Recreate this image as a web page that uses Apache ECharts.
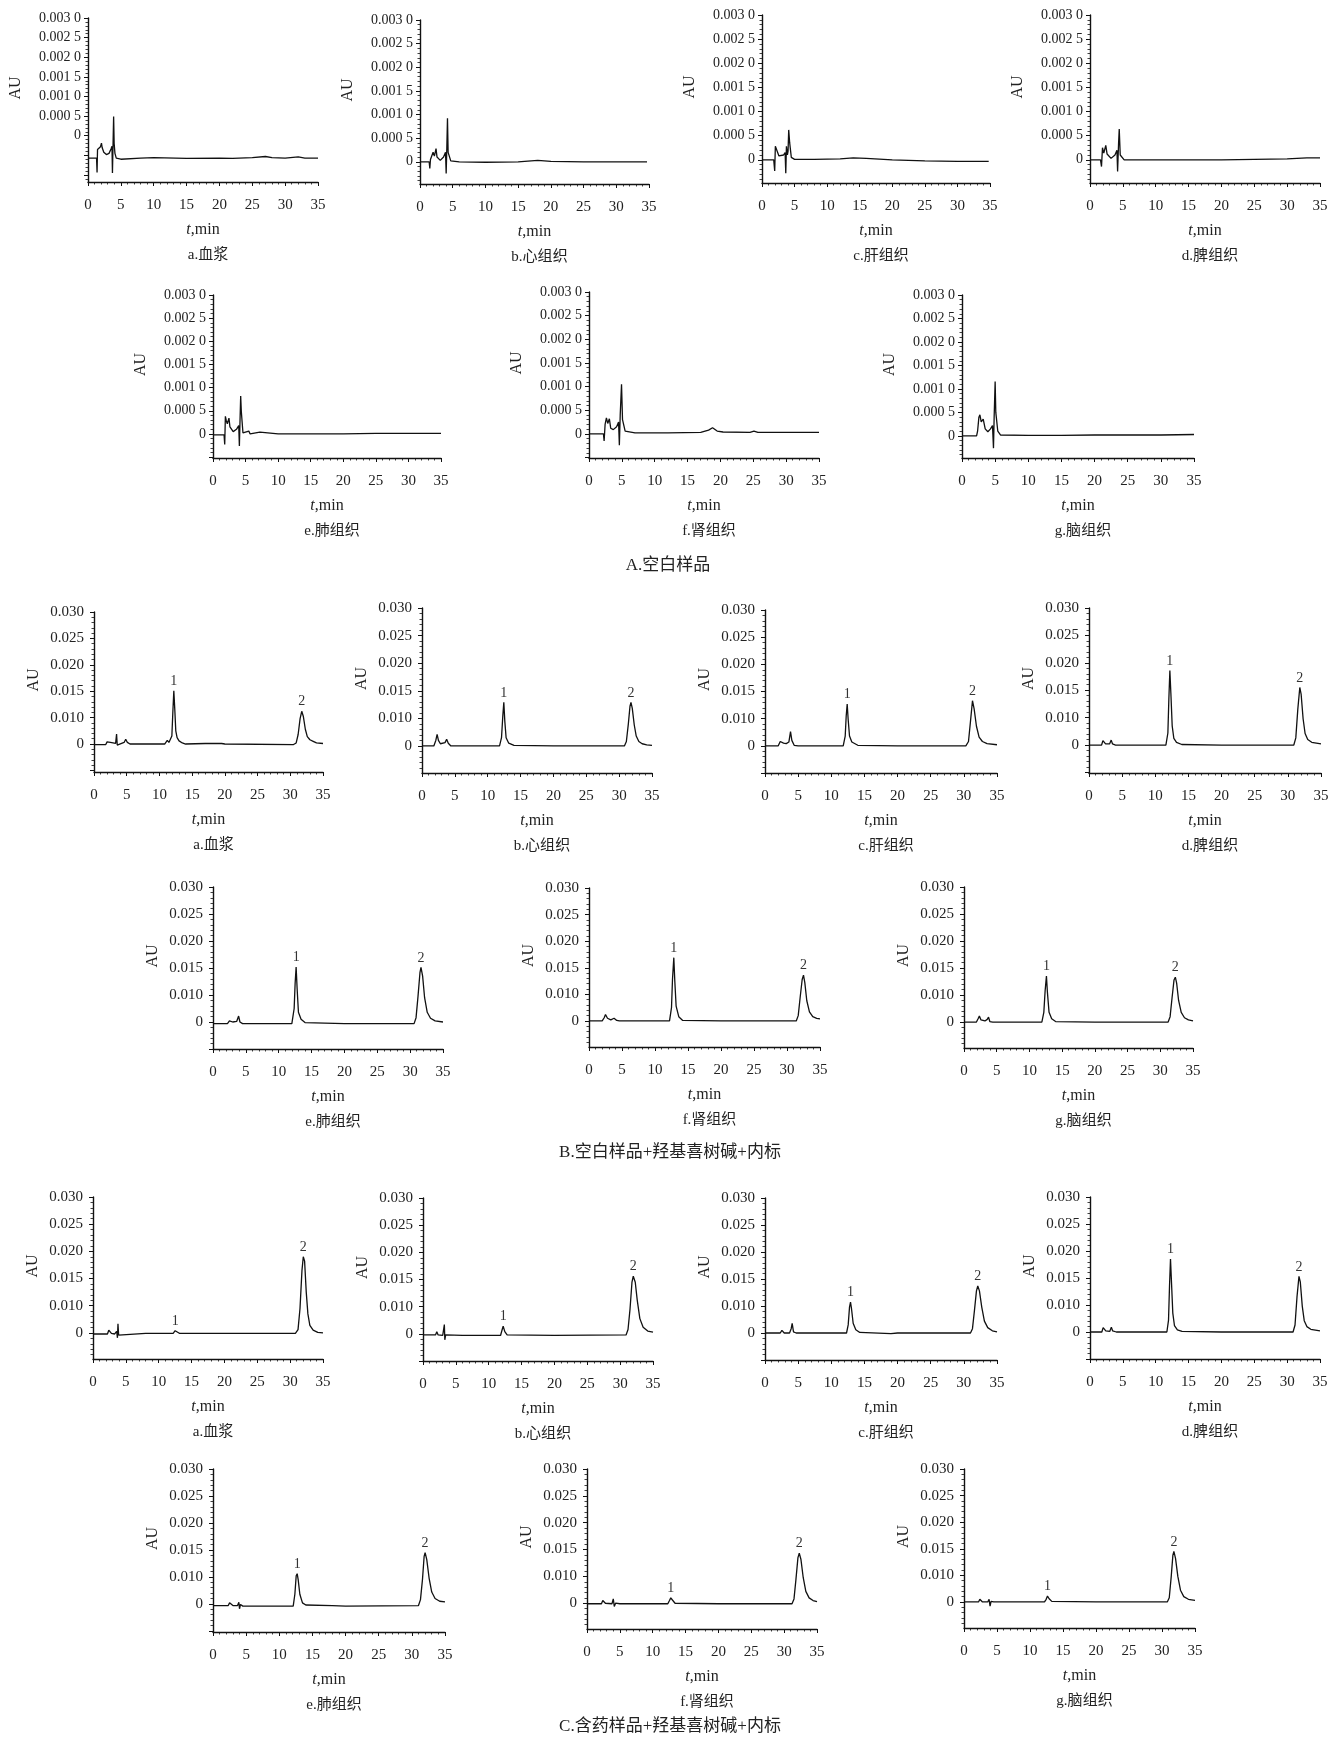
<!DOCTYPE html>
<html><head><meta charset="utf-8">
<script src="https://cdn.jsdelivr.net/npm/echarts@6/dist/echarts.min.js"></script>
<style>html,body{margin:0;padding:0;background:#fff}#chart{width:1334px;height:1738px}</style>
</head><body><div id="chart"></div>
<script>
// ---------- text ----------
const groupTitles = ['A.空白样品', 'B.空白样品+羟基喜树碱+内标', 'C.含药样品+羟基喜树碱+内标'];
const tissueCaptions = ['a.血浆', 'b.心组织', 'c.肝组织', 'd.脾组织', 'e.肺组织', 'f.肾组织', 'g.脑组织'];
const peakNames = ['1', '2'];
const peakWindows = [[10, 15], [29, 35]];

// ---------- tick labels ----------
const xTickValues = [0, 5, 10, 15, 20, 25, 30, 35];
const blankTickValues = [-0.0010, -0.0005, 0, 0.0005, 0.0010, 0.0015, 0.0020, 0.0025, 0.0030];
const blankTickLabels = ['', '', '0', '0.000 5', '0.001 0', '0.001 5', '0.002 0', '0.002 5', '0.003 0'];
const drugTickValues = [0, 0.005, 0.010, 0.015, 0.020, 0.025, 0.030];
const drugTickLabels = ['', '0', '0.010', '0.015', '0.020', '0.025', '0.030'];

// ---------- A: blank samples  [t(min), AU] ----------
const blankPlasma = [[0,-0.00057],[1.3,-0.00057],[1.38,-0.00094],[1.45,-0.00035],[1.6,-0.00031],[1.75,-0.00036],[1.9,-0.00028],[2.05,-0.00019],[2.15,-0.0003],[2.4,-0.00042],[2.8,-0.00048],[3.2,-0.00045],[3.5,-0.00034],[3.65,-0.00027],[3.72,-0.00095],[3.8,-0.0003],[3.9,0.00049],[3.98,-0.0002],[4.1,-0.00045],[4.3,-0.00057],[5,-0.0006],[8,-0.00057],[10,-0.00056],[15,-0.00058],[20,-0.00057],[22,-0.00058],[25,-0.00056],[27,-0.00053],[28,-0.00056],[30,-0.00057],[32,-0.00054],[33,-0.00057],[35,-0.00057]];
const blankHeart = [[0,0],[1.4,0],[1.5,-0.00014],[1.6,0.00005],[2.0,0.0002],[2.2,0.00012],[2.45,0.00028],[2.6,0.0001],[3.1,0.00003],[3.6,0.0001],[3.9,0.0002],[4.0,-0.00025],[4.1,0.0003],[4.2,0.00092],[4.3,0.0002],[4.7,0.00002],[6,0],[10,-0.00001],[15,0],[18,0.00003],[20,0.00001],[25,0],[30,0],[34.7,0]];
const blankLiver = [[0,0],[1.8,0],[1.95,-0.00023],[2.05,0.00028],[2.3,0.00024],[2.6,0.00008],[2.9,0.00005],[3.3,0.0001],[3.55,0.00015],[3.65,-0.00028],[3.75,0.00028],[3.9,0.0001],[4.0,0.00018],[4.1,0.00062],[4.25,0.00035],[4.5,0.00005],[5,0.00001],[8,0.00001],[12,0.00002],[14,0.00004],[16,0.00003],[20,0],[25,-0.00002],[30,-0.00003],[34.8,-0.00003]];
const blankSpleen = [[0,0],[1.6,0],[1.75,-0.00014],[1.9,0.00025],[2.1,0.00014],[2.4,0.0003],[2.6,0.00012],[3.2,0.00003],[3.8,0.0001],[4.1,0.0002],[4.2,-0.00024],[4.35,0.00035],[4.45,0.00064],[4.6,0.0001],[5.2,0],[10,0],[15,0],[20,0],[25,0.00001],[30,0.00002],[33,0.00004],[35,0.00004]];
const blankLung = [[0,-0.00002],[1.7,-0.00002],[1.8,-0.00023],[1.9,0.00038],[2.05,0.00028],[2.2,0.00022],[2.45,0.00034],[2.6,0.00015],[3.1,0.00005],[3.6,0.0001],[3.95,0.00018],[4.05,-0.00026],[4.15,0.0003],[4.25,0.00082],[4.35,0.00048],[4.6,0.00002],[5.5,0.00006],[5.7,0],[7.2,0.00004],[7.5,0],[10,0],[15,0],[20,0],[25,0.00001],[30,0.00001],[35,0.00001]];
const blankKidney = [[0,0],[2.2,0],[2.3,-0.00015],[2.45,0.0002],[2.65,0.00034],[2.85,0.00022],[3.1,0.00032],[3.3,0.00012],[3.7,0.00009],[4.2,0.00015],[4.5,0.00025],[4.62,-0.00024],[4.75,0.0004],[4.95,0.00105],[5.1,0.0003],[5.5,0.00006],[7,0.00002],[12,0.00002],[17,0.00003],[18.2,0.00008],[18.8,0.00013],[19.5,0.00006],[20.4,0.00004],[24.5,0.00003],[25.1,0.00006],[25.7,0.00003],[30,0.00003],[35,0.00003]];
const blankBrain = [[0,0],[2.2,0],[2.35,0.0001],[2.55,0.0004],[2.7,0.00045],[2.9,0.0003],[3.2,0.00036],[3.5,0.00015],[3.9,0.00009],[4.3,0.00015],[4.6,0.00022],[4.75,-0.00026],[4.85,0.0004],[5.0,0.00116],[5.1,0.0005],[5.4,0.0001],[5.8,0.00002],[10,0.00001],[15,0.00001],[20,0.00002],[25,0.00002],[30,0.00002],[35,0.00003]];

// ---------- B: blank + hydroxycamptothecin + internal standard ----------
const spikedPlasma = [[0,0.0049],[1.8,0.0049],[2.0,0.0054],[2.5,0.0053],[2.7,0.0051],[3.3,0.0051],[3.45,0.0069],[3.55,0.0048],[3.7,0.0051],[4.6,0.0053],[4.85,0.0059],[5.1,0.0053],[5.5,0.005],[10.8,0.005],[11.2,0.0057],[11.45,0.0053],[11.6,0.0052],[11.9,0.0065],[12.05,0.011],[12.2,0.0151],[12.35,0.0115],[12.5,0.0075],[12.7,0.0062],[13.0,0.0056],[13.5,0.0052],[14,0.005],[17,0.0051],[19.5,0.0051],[20,0.005],[30.5,0.0049],[30.9,0.0052],[31.2,0.0068],[31.5,0.0098],[31.75,0.0112],[32.0,0.0102],[32.3,0.0078],[32.6,0.0064],[33.0,0.0058],[33.5,0.0055],[34,0.0052],[35,0.0051]];
const spikedHeart = [[0,0.005],[1.8,0.005],[2.1,0.006],[2.3,0.0071],[2.5,0.006],[2.8,0.0054],[3.1,0.0053],[3.5,0.0056],[3.75,0.0062],[4.0,0.0055],[4.4,0.005],[11.8,0.005],[12.1,0.0065],[12.3,0.0105],[12.45,0.0129],[12.6,0.0095],[12.8,0.0065],[13.2,0.0055],[14,0.0051],[20,0.005],[30.8,0.005],[31.1,0.0058],[31.4,0.009],[31.65,0.0122],[31.8,0.0129],[32.0,0.0118],[32.3,0.0088],[32.6,0.0068],[33.0,0.0058],[33.5,0.0054],[34.2,0.0052],[35,0.0051]];
const spikedLiver = [[0,0.005],[2.0,0.005],[2.3,0.0058],[2.5,0.006],[2.8,0.0055],[3.2,0.0054],[3.6,0.0057],[3.85,0.0076],[4.05,0.006],[4.4,0.0051],[5,0.005],[11.8,0.005],[12.1,0.0068],[12.25,0.0105],[12.4,0.0127],[12.55,0.0098],[12.75,0.0068],[13.1,0.0057],[14,0.0051],[20,0.005],[30.3,0.005],[30.7,0.0058],[31.0,0.0095],[31.3,0.0133],[31.55,0.0118],[31.9,0.0086],[32.3,0.0066],[32.8,0.0058],[33.5,0.0054],[35,0.0052]];
const spikedSpleen = [[0,0.005],[1.9,0.005],[2.1,0.0058],[2.25,0.0059],[2.5,0.0052],[3.1,0.0052],[3.35,0.0059],[3.55,0.0052],[4,0.005],[11.6,0.005],[11.9,0.0072],[12.05,0.0135],[12.2,0.0186],[12.35,0.0145],[12.55,0.0085],[12.8,0.0062],[13.2,0.0055],[14,0.0051],[20,0.005],[30.9,0.005],[31.2,0.0063],[31.5,0.0115],[31.8,0.0155],[32.0,0.0143],[32.3,0.0098],[32.6,0.0071],[33.0,0.006],[33.6,0.0055],[35,0.0052]];
const spikedLung = [[0,0.0047],[2.2,0.0047],[2.5,0.0052],[2.7,0.0055],[3.0,0.005],[3.6,0.0051],[3.9,0.0061],[4.1,0.005],[4.5,0.0047],[12.0,0.0047],[12.35,0.0075],[12.5,0.0122],[12.65,0.0152],[12.8,0.0112],[13.0,0.0068],[13.4,0.0055],[14,0.0049],[20,0.0047],[30.6,0.0047],[30.9,0.0058],[31.2,0.0098],[31.5,0.0142],[31.65,0.0151],[31.9,0.0135],[32.2,0.0095],[32.6,0.0068],[33.1,0.0057],[33.8,0.0052],[35,0.005]];
const spikedKidney = [[0,0.005],[2.0,0.005],[2.3,0.0056],[2.5,0.0062],[2.8,0.0055],[3.3,0.0052],[3.8,0.0055],[4.0,0.0058],[4.2,0.0051],[4.6,0.005],[12.2,0.005],[12.5,0.0075],[12.65,0.0128],[12.85,0.0169],[13.0,0.0125],[13.2,0.0078],[13.6,0.0058],[14.2,0.0051],[20,0.005],[31.4,0.005],[31.7,0.006],[32.0,0.0095],[32.3,0.0128],[32.5,0.0136],[32.7,0.0122],[33.0,0.0088],[33.4,0.0067],[33.9,0.0058],[34.5,0.0055],[35,0.0054]];
const spikedBrain = [[0,0.005],[1.9,0.005],[2.15,0.0056],[2.35,0.0061],[2.6,0.0054],[3.2,0.0052],[3.55,0.0055],[3.75,0.0059],[3.95,0.0051],[4.4,0.005],[11.9,0.005],[12.2,0.0068],[12.4,0.0108],[12.6,0.0135],[12.75,0.0105],[13.0,0.0068],[13.4,0.0056],[14,0.0051],[20,0.005],[31.2,0.005],[31.5,0.006],[31.8,0.0095],[32.1,0.0128],[32.3,0.0133],[32.5,0.0122],[32.8,0.009],[33.2,0.0068],[33.7,0.0058],[34.3,0.0054],[35,0.0052]];

// ---------- C: dosed samples + hydroxycamptothecin + internal standard ----------
const dosedPlasma = [[0,0.0048],[2.2,0.0048],[2.4,0.0055],[2.6,0.0054],[2.8,0.0049],[3.3,0.0048],[3.6,0.0053],[3.72,0.0041],[3.8,0.0067],[3.9,0.0046],[4.2,0.0049],[8,0.0049],[12.2,0.0049],[12.5,0.0054],[12.8,0.0051],[13.2,0.0049],[19.4,0.0049],[19.7,0.005],[20,0.0049],[30.8,0.0049],[31.2,0.0056],[31.5,0.0095],[31.8,0.0165],[32.0,0.019],[32.2,0.0182],[32.45,0.0125],[32.7,0.0085],[33.0,0.0064],[33.5,0.0055],[34.2,0.0051],[35,0.005]];
const dosedHeart = [[0,0.0048],[1.9,0.0048],[2.1,0.0054],[2.3,0.0048],[3.0,0.0047],[3.25,0.0067],[3.32,0.0039],[3.45,0.0048],[6,0.0047],[11.8,0.0047],[12.05,0.0058],[12.2,0.0064],[12.45,0.0054],[12.8,0.0048],[20,0.0047],[30.9,0.0048],[31.2,0.0058],[31.5,0.0095],[31.8,0.0145],[32.0,0.0156],[32.3,0.0145],[32.6,0.0112],[33.0,0.0078],[33.5,0.0062],[34.2,0.0055],[35,0.0053]];
const dosedLiver = [[0,0.005],[2.3,0.005],[2.55,0.0055],[2.7,0.0056],[2.9,0.005],[3.7,0.005],[3.95,0.0058],[4.1,0.0068],[4.3,0.0052],[4.7,0.005],[12.3,0.005],[12.55,0.0065],[12.75,0.0098],[12.9,0.0107],[13.05,0.0095],[13.3,0.0068],[13.7,0.0056],[14.3,0.0051],[19,0.0049],[20,0.005],[31.0,0.005],[31.3,0.0058],[31.6,0.0092],[31.9,0.0128],[32.1,0.0137],[32.35,0.0128],[32.7,0.0098],[33.1,0.0072],[33.6,0.006],[34.3,0.0054],[35,0.0052]];
const dosedSpleen = [[0,0.005],[1.8,0.005],[2.0,0.0058],[2.15,0.0059],[2.4,0.0052],[3.0,0.0051],[3.25,0.0059],[3.45,0.0052],[4,0.005],[11.7,0.005],[11.95,0.0072],[12.1,0.0135],[12.25,0.0185],[12.4,0.0142],[12.6,0.0085],[12.85,0.0062],[13.3,0.0054],[14,0.0051],[20,0.005],[30.9,0.005],[31.2,0.0063],[31.5,0.0115],[31.8,0.0153],[32.0,0.0143],[32.3,0.0098],[32.6,0.0071],[33.0,0.006],[33.6,0.0055],[35,0.0052]];
const dosedLung = [[0,0.0047],[2.3,0.0047],[2.5,0.0052],[2.75,0.0054],[3.0,0.0047],[3.7,0.0047],[3.9,0.0053],[4.0,0.0041],[4.15,0.0049],[4.5,0.0046],[12.1,0.0046],[12.35,0.0068],[12.55,0.0102],[12.7,0.0106],[12.85,0.0095],[13.1,0.0068],[13.5,0.0052],[14,0.0048],[18,0.0047],[20,0.0046],[31.0,0.0047],[31.3,0.0058],[31.6,0.0095],[31.85,0.0138],[32.0,0.0145],[32.25,0.0132],[32.6,0.0098],[33.0,0.0072],[33.5,0.006],[34.2,0.0055],[35,0.0054]];
const dosedKidney = [[0,0.0049],[2.2,0.0049],[2.4,0.0055],[2.55,0.0056],[2.8,0.005],[3.8,0.0049],[4.0,0.0058],[4.15,0.0044],[4.35,0.005],[5,0.0049],[12.3,0.0049],[12.55,0.0055],[12.75,0.006],[13.0,0.0056],[13.4,0.005],[20,0.0049],[31.2,0.0049],[31.5,0.0058],[31.8,0.0095],[32.1,0.0135],[32.3,0.0143],[32.55,0.0132],[32.9,0.0098],[33.3,0.0072],[33.8,0.006],[34.4,0.0055],[35,0.0053]];
const dosedBrain = [[0,0.005],[2.2,0.005],[2.4,0.0055],[2.55,0.0057],[2.8,0.005],[3.6,0.005],[3.8,0.0055],[3.95,0.0042],[4.1,0.0051],[4.5,0.005],[12.2,0.005],[12.45,0.0055],[12.65,0.0061],[12.9,0.0056],[13.3,0.0051],[20,0.005],[30.8,0.005],[31.1,0.0058],[31.4,0.0098],[31.65,0.0138],[31.8,0.0145],[32.05,0.0132],[32.4,0.0098],[32.8,0.0072],[33.3,0.006],[34,0.0055],[35,0.0053]];

const groupData = [
  [blankPlasma, blankHeart, blankLiver, blankSpleen, blankLung, blankKidney, blankBrain],
  [spikedPlasma, spikedHeart, spikedLiver, spikedSpleen, spikedLung, spikedKidney, spikedBrain],
  [dosedPlasma, dosedHeart, dosedLiver, dosedSpleen, dosedLung, dosedKidney, dosedBrain]
];

// ---------- layout (px: left, top, right, bottom) and axis ranges ----------
const panelRects = [
  [[88,18,318,182],[420,20,649,184],[762,15,990,183],[1090,15,1320,183],[213,295,441,458],[589,292,819,458],[962,295,1194,458]],
  [[94,612,323,772],[422,608,652,773],[765,610,997,773],[1089,608,1321,773],[213,887,443,1049],[589,888,820,1047],[964,887,1193,1048]],
  [[93,1197,323,1359],[423,1198,653,1361],[765,1198,997,1360],[1090,1197,1320,1359],[213,1469,445,1632],[587,1469,817,1629],[964,1469,1195,1628]]
];
const yMinByGroup = [
  [-0.00118,-0.00047,-0.00048,-0.00048,-0.00052,-0.00051,-0.00047],
  [-0.0003,0.0001,0,-0.0001,0,0.0001,0.0002],
  [0.0002,0,0,0,-0.0002,0.0002,0.0001]
];
const yMaxByGroup = [0.0030, 0.030, 0.030];
const groupTitlePos = [[668,566],[670,1153],[670,1727]];

const SERIF = "'Liberation Serif','Times New Roman',serif";
const MIXED = "'Liberation Serif','Noto Sans CJK SC',serif";
const INK = '#111';
const TXT = '#222';

const grids = [], xAxes = [], yAxes = [], series = [], graphics = [];

function near(a, b) { return Math.abs(a - b) < 1e-9; }

function addPanel(g, k) {
  const [l, t, r, b] = panelRects[g][k];
  const yMin = yMinByGroup[g][k], yMax = yMaxByGroup[g];
  const tv = g === 0 ? blankTickValues : drugTickValues;
  const tl = g === 0 ? blankTickLabels : drugTickLabels;
  const step = tv[1] - tv[0];
  const majors = tv.filter(v => v >= yMin - 1e-12 && v <= yMax + 1e-12);
  const labeled = majors.filter(v => tl[tv.findIndex(x => near(x, v))] !== '');
  const minors = [];
  const mstep = step / 5;
  for (let i = Math.ceil(yMin / mstep - 1e-6); i * mstep <= yMax + 1e-12; i++) {
    const v = i * mstep;
    if (!tv.some(x => near(x, v))) minors.push(v);
  }
  const gi = grids.length;
  grids.push({ left: l, top: t, width: r - l, height: b - t, containLabel: false });
  xAxes.push({
    gridIndex: gi, type: 'value', min: 0, max: 35, interval: 5,
    name: '{i|t},min', nameLocation: 'middle', nameGap: 40,
    nameTextStyle: { fontFamily: SERIF, fontSize: 16, color: TXT,
      rich: { i: { fontStyle: 'italic', fontFamily: SERIF, fontSize: 16, color: TXT } } },
    axisLine: { show: true, onZero: false, lineStyle: { color: INK, width: 1.4 } },
    axisTick: { show: true, length: 4, lineStyle: { color: INK, width: 1 } },
    minorTick: { show: true, splitNumber: 5, length: 2.5, lineStyle: { color: INK, width: 0.8 } },
    splitLine: { show: false }, minorSplitLine: { show: false },
    axisLabel: { margin: 16, fontSize: 15, fontFamily: SERIF, color: TXT }
  });
  const yi = yAxes.length;
  yAxes.push({
    gridIndex: gi, type: 'value', min: yMin, max: yMax, position: 'left',
    name: 'AU', nameLocation: 'middle', nameGap: g === 0 ? 64 : 52,
    nameTextStyle: { fontFamily: SERIF, fontSize: 16, color: TXT, padding: [0, 0, 0, 24] },
    axisLine: { show: true, onZero: false, lineStyle: { color: INK, width: 1.4 } },
    axisTick: { show: true, customValues: majors, length: 4, lineStyle: { color: INK, width: 1 } },
    axisLabel: {
      customValues: labeled, margin: g === 0 ? 7 : 10,
      fontSize: g === 0 ? 14 : 15, fontFamily: SERIF, color: TXT,
      formatter: v => { const i = tv.findIndex(x => near(x, v)); return i >= 0 ? tl[i] : ''; }
    },
    splitLine: { show: false }
  });
  yAxes.push({
    gridIndex: gi, type: 'value', min: yMin, max: yMax, position: 'left', offset: 0,
    axisLine: { show: false },
    axisTick: { show: true, customValues: minors, length: 2.5, lineStyle: { color: INK, width: 0.8 } },
    axisLabel: { show: false }, splitLine: { show: false }
  });
  const data = groupData[g][k];
  const s = {
    type: 'line', xAxisIndex: gi, yAxisIndex: yi, data: data,
    showSymbol: false, symbol: 'none', smooth: false,
    lineStyle: { color: INK, width: 1.3 }, silent: true
  };
  if (g > 0) {
    const mp = peakWindows.map((w, j) => {
      let best = null;
      data.forEach(p => { if (p[0] >= w[0] && p[0] <= w[1] && (!best || p[1] > best[1])) best = p; });
      return { name: peakNames[j], coord: [best[0], best[1]] };
    });
    s.markPoint = {
      symbol: 'circle', symbolSize: 1, itemStyle: { color: 'rgba(0,0,0,0)' }, silent: true,
      label: { show: true, position: 'top', distance: 2, formatter: '{b}', fontFamily: SERIF, fontSize: 14, color: '#333' },
      data: mp
    };
  }
  series.push(s);
  graphics.push({
    type: 'text', x: (l + r) / 2 + 5, y: b + 73, silent: true,
    style: { text: tissueCaptions[k], font: '15px ' + MIXED, fill: TXT, align: 'center', verticalAlign: 'middle' }
  });
}

for (let g = 0; g < 3; g++) {
  for (let k = 0; k < 7; k++) addPanel(g, k);
  graphics.push({
    type: 'text', x: groupTitlePos[g][0], y: groupTitlePos[g][1], silent: true,
    style: { text: groupTitles[g], font: '17px ' + MIXED, fill: TXT, align: 'center', verticalAlign: 'middle' }
  });
}

const chart = echarts.init(document.getElementById('chart'), null, { renderer: 'canvas' });
chart.setOption({
  backgroundColor: '#fff',
  animation: false,
  grid: grids, xAxis: xAxes, yAxis: yAxes, series: series, graphic: graphics
});
</script></body></html>
